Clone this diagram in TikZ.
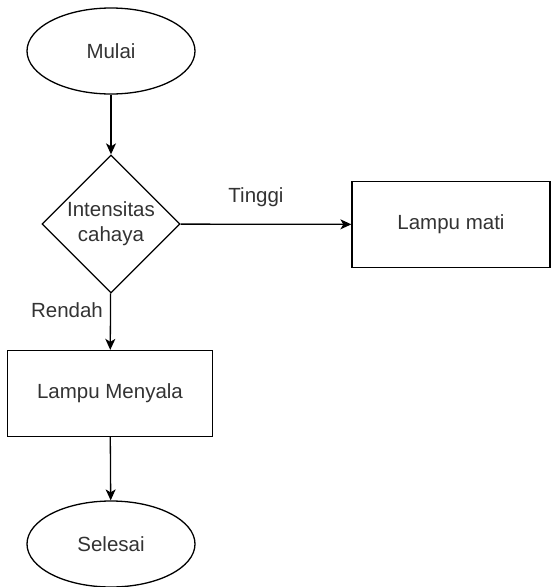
\documentclass[tikz,border=0pt]{standalone}
\usepackage{fontspec}
\setmainfont{Liberation Sans}
\usetikzlibrary{shapes.geometric,arrows.meta}
\begin{document}
\begin{tikzpicture}[x=1pt,y=-1pt,
  every node/.style={font=\fontsize{20.5}{25}\selectfont, text=black!80},
  term/.style={ellipse, draw, line width=1.3pt, minimum width=168pt, minimum height=86pt, inner sep=0pt},
  proc/.style={rectangle, draw, line width=1.3pt, minimum width=205pt, minimum height=86pt, inner sep=0pt},
  dec/.style={diamond, draw, line width=1.3pt, aspect=1, minimum width=138pt, minimum height=138pt, inner sep=0pt, align=center},
  arr/.style={line width=1.3pt, -{Stealth[length=11pt,width=10pt,inset=3pt]}},
  lbl/.style={inner sep=0pt}]
\useasboundingbox (0,0) rectangle (550,587);
\node[term] (start) at (111,51) {Mulai};
\node[dec] (d) at (111,224) {Intensitas\\cahaya};
\node[proc, minimum width=198pt] (off) at (451,224.5) {Lampu mati};
\node[proc] (on) at (110,393.5) {Lampu Menyala};
\node[term] (end) at (111,544) {Selesai};
\draw[arr] (start) -- (d);
\draw[arr] (d) -- (off);
\draw[arr] (d) -- (on);
\draw[arr] (on) -- (end);
\node[lbl] (t) at (256,197) {Tinggi};
\node[lbl] (r) at (67,310) {Rendah};
\end{tikzpicture}
\end{document}
